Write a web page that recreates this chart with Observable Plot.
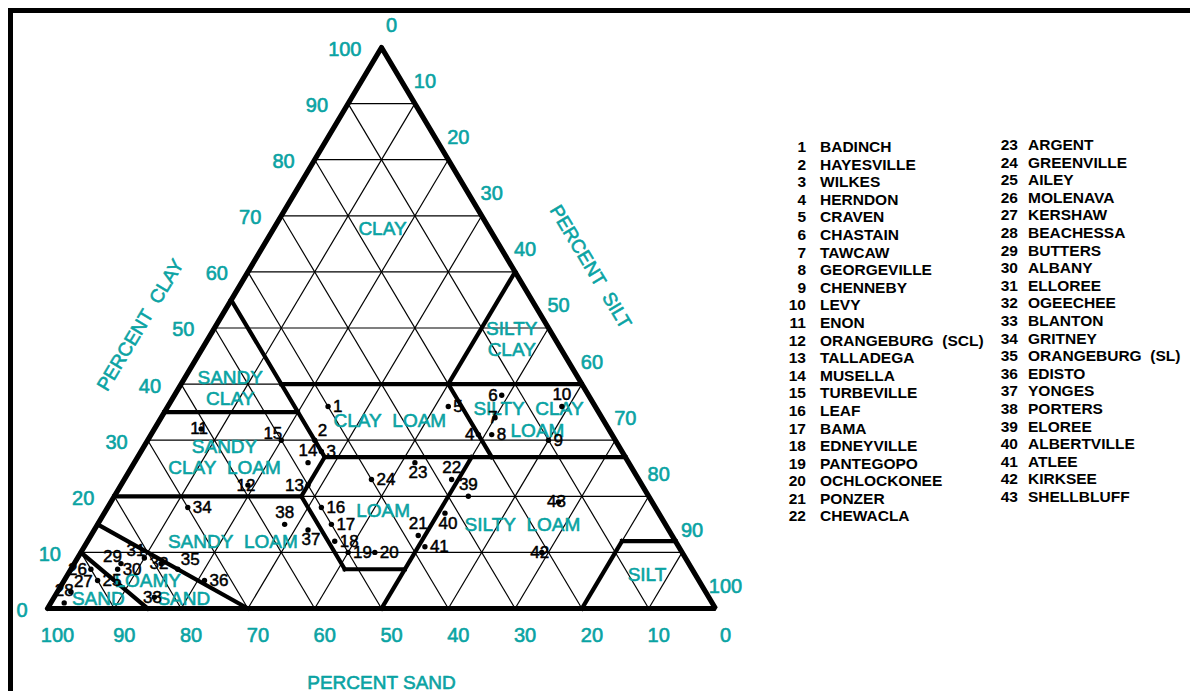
<!DOCTYPE html>
<html>
<head>
<meta charset="utf-8">
<script src="https://cdn.jsdelivr.net/npm/d3@7"></script>
<script src="https://cdn.jsdelivr.net/npm/@observablehq/plot@0.6"></script>
<style>
  html, body { margin: 0; padding: 0; background: #fff; }
  body { width: 1190px; height: 691px; position: relative; overflow: hidden;
         font-family: "Liberation Sans", Arial, sans-serif; }
  #frame { position: absolute; left: 8px; top: 8px; right: 0; bottom: 0;
           border-top: 5px solid #000; border-left: 5px solid #000; }
  #chart { position: absolute; left: 0; top: 0; }
  .legend { position: absolute; font-weight: bold; font-size: 15.5px; line-height: 17.6px;
            color: #000; white-space: pre; }
  .legend .row { display: flex; height: 17.6px; }
  .legend .num { text-align: right; flex: none; }
</style>
</head>
<body>
<div id="frame"></div>
<div id="chart"></div>
<div class="legend" id="leg1"></div>
<div class="legend" id="leg2"></div>
<script>
// Soil series (numbered 1..43): sand and clay percent; silt = 100 - sand - clay
const soilNames = [
  "BADINCH", "HAYESVILLE", "WILKES", "HERNDON", "CRAVEN", "CHASTAIN", "TAWCAW",
  "GEORGEVILLE", "CHENNEBY", "LEVY", "ENON", "ORANGEBURG  (SCL)", "TALLADEGA",
  "MUSELLA", "TURBEVILLE", "LEAF", "BAMA", "EDNEYVILLE", "PANTEGOPO", "OCHLOCKONEE",
  "PONZER", "CHEWACLA", "ARGENT", "GREENVILLE", "AILEY", "MOLENAVA", "KERSHAW",
  "BEACHESSA", "BUTTERS", "ALBANY", "ELLOREE", "OGEECHEE", "BLANTON", "GRITNEY",
  "ORANGEBURG  (SL)", "EDISTO", "YONGES", "PORTERS", "ELOREE", "ALBERTVILLE",
  "ATLEE", "KIRKSEE", "SHELLBLUFF"
];
const soilSand = [40, 45, 45, 20, 22, 13, 16, 18, 10, 5, 61, 59, 50, 48, 50, 50, 50, 51,
  50, 46, 38, 28, 32, 40, 90, 90, 95, 97, 85, 86, 81, 79, 83, 70, 77, 74, 54, 57, 27,
  32, 38, 21, 14];
const soilClay = [36, 30, 28, 31, 36, 38, 34, 31, 30, 36, 32, 22, 22, 26, 30, 18, 15, 12,
  10, 10, 13, 23, 26, 23, 5, 7, 3, 1, 8, 7, 9, 8, 2, 18, 7, 5, 14, 15, 20, 17, 11, 10, 19];
// which side of its dot each number is written on
const labelSide = ["e", "ne", "e", "w", "e", "w", "c", "e", "e", "n", "c", "c", "w", "n",
  "nw", "e", "e", "e", "e", "e", "n", "n", "s", "e", "e", "w", "ne", "n", "nw", "e",
  "nw", "c", "c", "e", "ne", "e", "s", "n", "n", "s", "e", "c", "c"];

// USDA texture-class boundaries, as [sand, clay] end points
const classBoundaries = [
  [[0, 60], [20, 40]],
  [[45, 40], [0, 40]],
  [[45, 55], [45, 27]],
  [[65, 35], [45, 35]],
  [[20, 40], [20, 27]],
  [[45, 27], [0, 27]],
  [[45, 27], [52, 20]],
  [[80, 20], [52, 20]],
  [[52, 20], [52, 7]],
  [[52, 7], [43, 7]],
  [[23, 27], [50, 0]],
  [[20, 0], [8, 12]],
  [[8, 12], [0, 12]],
  [[85, 15], [70, 0]],
  [[90, 10], [85, 0]]
];

// Texture-class names, placed by [sand, clay]
const classNames = ["CLAY", "SILTY\nCLAY", "SANDY\nCLAY", "CLAY\u00a0\u00a0LOAM",
  "SILTY\u00a0\u00a0CLAY", "LOAM", "SANDY\nCLAY\u00a0\u00a0LOAM", "LOAM",
  "SANDY\u00a0\u00a0LOAM", "SILTY\u00a0\u00a0LOAM", "SILT", "LOAMY", "SAND", "SAND"];
const classSand = [16, 6.5, 53, 32, 10.2, 10.8, 60, 41, 66.3, 21.4, 7.2, 82.5, 78.7, 91.5];
const classClay = [67.7, 48, 39.3, 33.5, 35.6, 31.7, 27, 17.5, 11.9, 15, 6.1, 5, 1.8, 1.8];

// Axis tick labels (percent)
const tickValues = [0, 10, 20, 30, 40, 50, 60, 70, 80, 90, 100];

const teal = "#0aa3a3";
const font = "Liberation Sans, Arial, sans-serif";

// ternary (sand, clay) -> plane coordinates; clay runs up, sand decreases to the right
const proj = (s, c) => ({x: 100 - s - c / 2, y: c});

const soils = soilNames.map((name, i) => ({
  id: i + 1, name, sand: soilSand[i], clay: soilClay[i], side: labelSide[i],
  ...proj(soilSand[i], soilClay[i])
}));

const classes = classNames.map((name, i) => ({name, ...proj(classSand[i], classClay[i])}));

const grid = [];
for (const v of tickValues.slice(1, -1)) {
  grid.push([proj(100 - v, v), proj(0, v)]);        // constant clay
  grid.push([proj(v, 0), proj(v, 100 - v)]);        // constant sand
  grid.push([proj(100 - v, 0), proj(0, 100 - v)]);  // constant silt
}
const bounds = classBoundaries.map(([a, b]) => [proj(...a), proj(...b)]);
const outline = [proj(100, 0), proj(0, 100), proj(0, 0), proj(100, 0), proj(0, 100)];

const seg = {x1: d => d[0].x, y1: d => d[0].y, x2: d => d[1].x, y2: d => d[1].y};

// teal lettering, slightly heavier than the regular face
const tealText = {fill: teal, stroke: teal, strokeWidth: 0.6};

const sides = {
  e:  {dx: 5,  dy: 0,   textAnchor: "start"},
  w:  {dx: -4, dy: 0,   textAnchor: "end"},
  n:  {dx: 0,  dy: -12, textAnchor: "middle"},
  s:  {dx: 3,  dy: 10,  textAnchor: "middle"},
  ne: {dx: 3,  dy: -10, textAnchor: "start"},
  nw: {dx: 1,  dy: -7,  textAnchor: "end"},
  c:  {dx: -2, dy: 0,   textAnchor: "middle"}
};
const soilLabelMarks = Object.entries(sides).map(([k, o]) =>
  Plot.text(soils.filter(d => d.side === k), {
    x: "x", y: "y", text: d => String(d.id), fill: "#000", stroke: "#000",
    strokeWidth: 0.5, fontSize: 17, ...o
  })
);

const chart = Plot.plot({
  width: 790,
  height: 691,
  x: {domain: [0, 100], range: [47, 715], axis: null},
  y: {domain: [0, 100], range: [608, 47], axis: null},
  style: {fontFamily: font, background: "transparent", overflow: "visible"},
  marks: [
    Plot.link(grid, {...seg, stroke: "#000", strokeWidth: 1.2}),
    Plot.link(bounds, {...seg, stroke: "#000", strokeWidth: 4.2, strokeLinecap: "square"}),
    Plot.line(outline, {x: "x", y: "y", stroke: "#000", strokeWidth: 5.2, strokeLinejoin: "miter"}),
    Plot.text(classes, {x: "x", y: "y", text: "name", fontSize: 19, lineHeight: 1.1, ...tealText}),
    Plot.dot(soils, {x: "x", y: "y", r: 2.7, fill: "#000"}),
    ...soilLabelMarks,
    // clay axis (left side)
    Plot.text(tickValues, {x: v => proj(100 - v, v).x, y: v => v, text: String,
      textAnchor: "end", dx: -20, dy: 2, fontSize: 20, ...tealText}),
    // silt axis (right side)
    Plot.text(tickValues, {x: v => proj(0, 100 - v).x, y: v => 100 - v, text: String,
      dx: 10, dy: -22, fontSize: 20, ...tealText}),
    // sand axis (base)
    Plot.text(tickValues, {x: v => proj(v, 0).x, y: 0, text: String,
      dx: 10, dy: 27, fontSize: 20, ...tealText}),
    Plot.text(["PERCENT\u00a0\u00a0CLAY"], {x: proj(50, 50).x, y: 50, text: d => d,
      dx: -74, dy: -3, rotate: -59, fontSize: 19, ...tealText}),
    Plot.text(["PERCENT\u00a0\u00a0SILT"], {x: proj(0, 50).x, y: 50, text: d => d,
      dx: 42, dy: -61, rotate: 59, fontSize: 19, ...tealText}),
    Plot.text(["PERCENT SAND"], {x: proj(50, 0).x, y: 0, text: d => d,
      dy: 74, fontSize: 19, ...tealText})
  ]
});
document.getElementById("chart").appendChild(chart);

// numbered list of soil series, two columns
function fillLegend(el, items, left, top, numWidth, gap) {
  el.style.left = left + "px";
  el.style.top = top + "px";
  for (const d of items) {
    const row = document.createElement("div");
    row.className = "row";
    const n = document.createElement("span");
    n.className = "num";
    n.style.width = numWidth + "px";
    n.style.marginRight = gap + "px";
    n.textContent = d.id;
    const t = document.createElement("span");
    t.textContent = d.name;
    row.append(n, t);
    el.appendChild(row);
  }
}
fillLegend(document.getElementById("leg1"), soils.slice(0, 22), 780, 138, 26, 14);
fillLegend(document.getElementById("leg2"), soils.slice(22), 990, 136, 28, 10);
</script>
</body>
</html>
